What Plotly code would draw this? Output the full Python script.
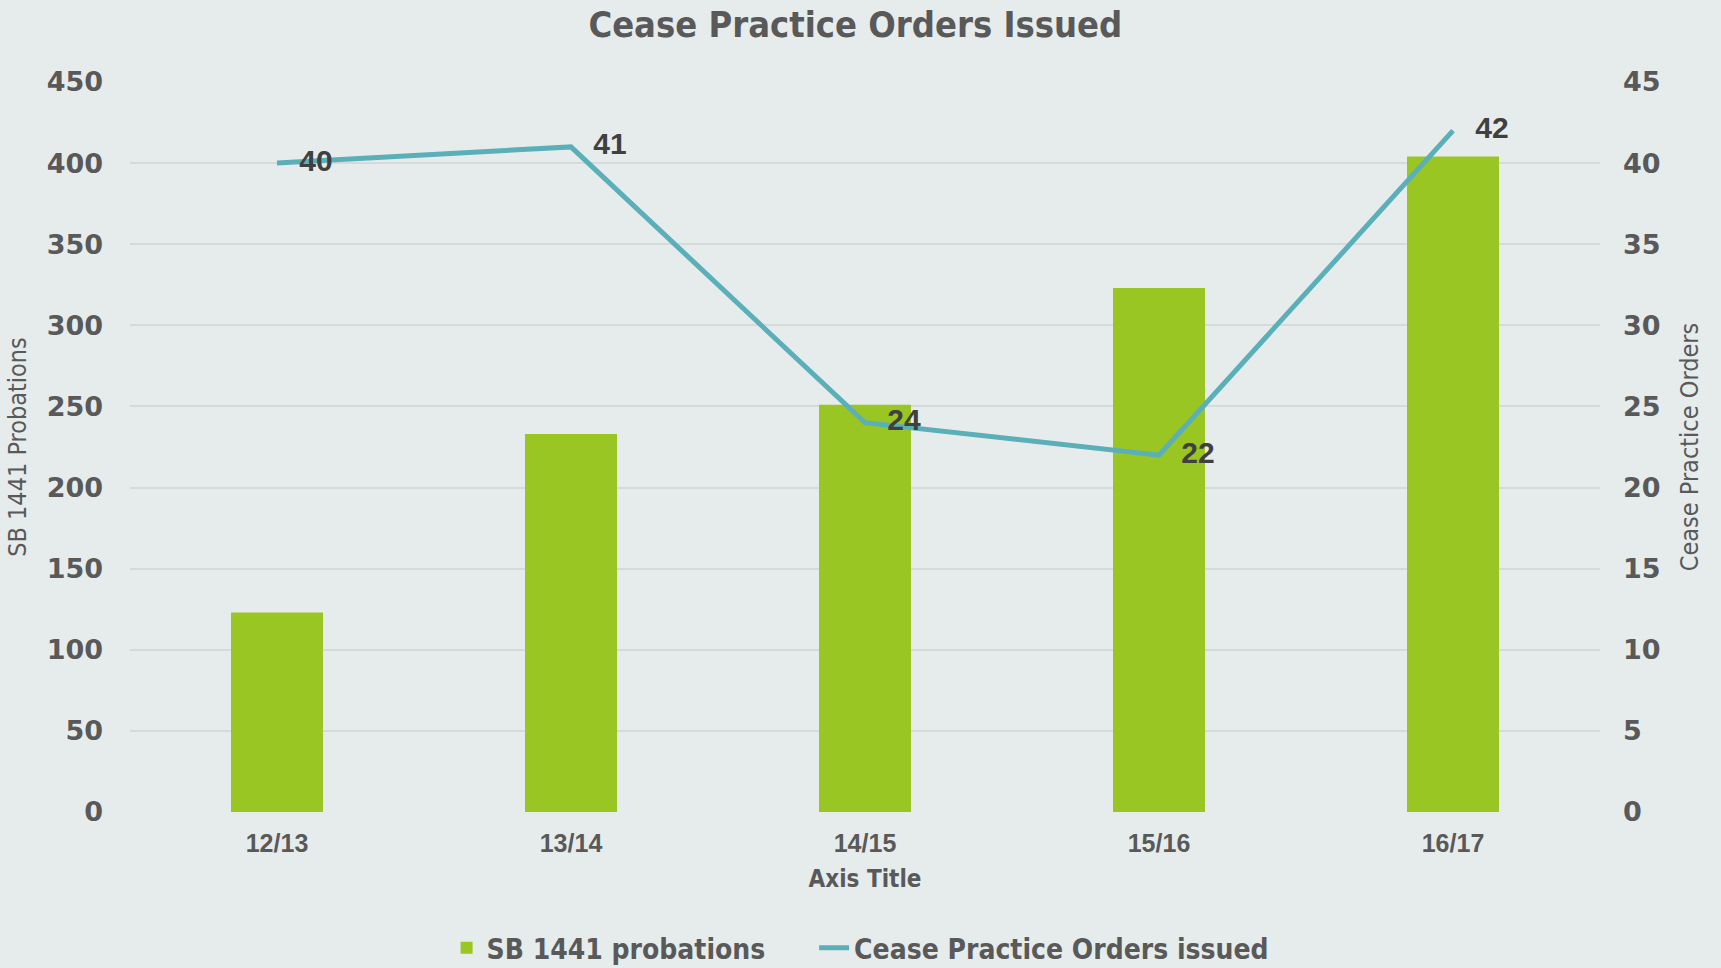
import plotly.graph_objects as go

categories = ["12/13", "13/14", "14/15", "15/16", "16/17"]
probations = [123, 233, 251, 323, 404]
cease_orders = [40, 41, 24, 22, 42]
left_ticks = list(range(0, 451, 50))
right_ticks = list(range(0, 46, 5))

BG = "#E6ECEC"
GRID = "#D7DADB"
TXT = "#595959"
NARROW = "DejaVu Sans Condensed, Liberation Sans Narrow, Arial Narrow, sans-serif"
WIDE = "DejaVu Sans, Verdana, sans-serif"
LIB = "Liberation Sans, Arial, sans-serif"
PAD = "\u00a0" * 5

fig = go.Figure()
fig.add_trace(go.Bar(
    x=categories, y=probations, name="SB 1441 probations" + PAD,
    marker=dict(color="#99C623", line=dict(width=0)),
    yaxis="y",
))
fig.add_trace(go.Scatter(
    x=categories, y=cease_orders, name="Cease Practice Orders issued",
    mode="lines+markers+text",
    line=dict(color="#5AAFB9", width=5),
    marker=dict(size=34, color="rgba(0,0,0,0)"),
    text=[str(v) for v in cease_orders],
    textposition="middle right",
    textfont=dict(family=LIB, size=30, color="#404040", weight="bold"),
    yaxis="y2",
))

fig.update_layout(
    width=1721, height=968,
    paper_bgcolor=BG, plot_bgcolor=BG,
    margin=dict(l=130, r=121, t=82, b=156, autoexpand=False),
    bargap=0.687,
    title=dict(text="<b>Cease Practice Orders Issued</b>", x=0.497, xanchor="center",
               y=1 - 24 / 968, yanchor="middle", yref="container",
               font=dict(family=NARROW, size=36, color=TXT)),
    xaxis=dict(
        type="category", showgrid=False, showline=False, zeroline=False,
        ticks="", ticklabelstandoff=14,
        tickfont=dict(family=LIB, size=25, color=TXT, weight="bold"),
        title=dict(text="<b>Axis Title</b>", font=dict(family=NARROW, size=24, color=TXT), standoff=14),
    ),
    yaxis=dict(
        range=[0, 450], tickvals=left_ticks, showgrid=True, gridcolor=GRID, gridwidth=2,
        zeroline=False, showline=False, ticks="", ticklabelstandoff=26,
        tickfont=dict(family=WIDE, size=27, color=TXT, weight="bold"),
        title=dict(text="SB 1441 Probations", font=dict(family=NARROW, size=25, color=TXT), standoff=12),
    ),
    yaxis2=dict(
        range=[0, 45], tickvals=right_ticks, overlaying="y", side="right",
        showgrid=False, zeroline=False, showline=False, ticks="", ticklabelstandoff=22,
        tickfont=dict(family=WIDE, size=27, color=TXT, weight="bold"),
        title=dict(text="Cease Practice Orders", font=dict(family=NARROW, size=25, color=TXT), standoff=20),
    ),
    legend=dict(orientation="h", x=0.497, xanchor="center", yref="container",
                y=(968 - 948) / 968, yanchor="middle",
                font=dict(family=NARROW, size=28, color=TXT, weight="bold"), bgcolor="rgba(0,0,0,0)"),
    showlegend=True,
)

fig.write_html("out.html", config={"displayModeBar": False},
               post_script="document.body.style.margin='0';")
